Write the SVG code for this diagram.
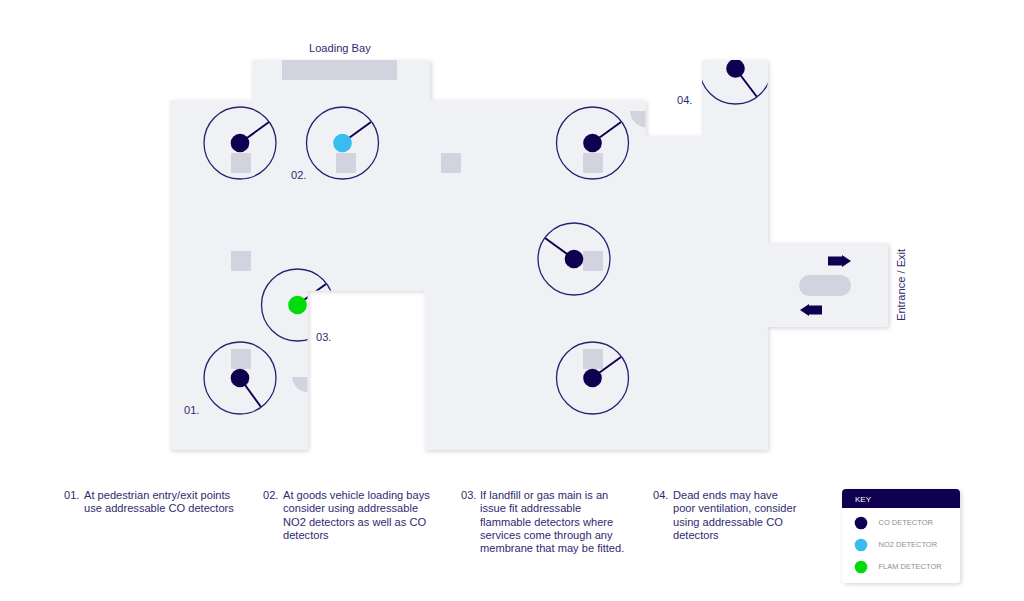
<svg xmlns="http://www.w3.org/2000/svg" width="1024" height="601" viewBox="0 0 1024 601">
<style>
text{font-family:"Liberation Sans",Arial,sans-serif;fill:#2f2a70;font-size:11.1px}
.key{fill:#8e8e96;font-size:7.500px}
.g{fill:#d3d3df}
.r{fill:none;stroke:#2a2070;stroke-width:1.3}
.l{stroke:#0f0050;stroke-width:2;fill:none}
.co{fill:#0f0050}.no2{fill:#38bdf0}.fl{fill:#00dc0a}
</style>
<defs>
<path id="fp" d="M252 60H430V100H645.500V136H702V60H767.500V243H888V327H767.500V450H424.500V290.500H307.500V450H170V100H252Z"/>
<clipPath id="fc"><use href="#fp"/></clipPath>
<filter id="sh" x="-5%" y="-5%" width="110%" height="115%"><feDropShadow dx="1.5" dy="1.5" stdDeviation="2" flood-color="#000" flood-opacity=".16"/></filter>
</defs>
<g id="floor">
<use href="#fp" fill="#f0f1f5" filter="url(#sh)"/>
<g class="g" clip-path="url(#fc)">
<rect x="282" y="60" width="115" height="20"/>
<rect x="231" y="153" width="20" height="20"/>
<rect x="336" y="153" width="20" height="20"/>
<rect x="441" y="153" width="20" height="20"/>
<rect x="583" y="153" width="20" height="20"/>
<rect x="583" y="251" width="20" height="20"/>
<rect x="583" y="349" width="20" height="20"/>
<rect x="231" y="251" width="20" height="20"/>
<rect x="231" y="349" width="20" height="20"/>
<path d="M292 377H308V392A16 16 0 0 1 292 377Z"/>
<path d="M630 111H648V127A16 16 0 0 1 630 111Z"/>
<rect x="799" y="275" width="52" height="21" rx="10.500"/>
</g>
</g>
<g id="connectors" clip-path="url(#fc)">
<line class="l" x1="240" y1="143" x2="269" y2="122"/>
<line class="l" x1="342" y1="143" x2="371" y2="122"/>
<line class="l" x1="592" y1="143" x2="621" y2="122"/>
<line class="l" x1="574" y1="259" x2="545" y2="238"/>
<line class="l" x1="592" y1="378" x2="621" y2="357"/>
<line class="l" x1="240" y1="378" x2="261" y2="407"/>
<line class="l" x1="297" y1="305" x2="326" y2="284"/>
<line class="l" x1="735" y1="68" x2="757" y2="97"/>
</g>
<g id="detector-1" clip-path="url(#fc)"><circle class="r" cx="240" cy="143" r="36"/><circle class="co" cx="240" cy="143" r="9.300"/></g>
<g id="detector-2" clip-path="url(#fc)"><circle class="r" cx="342.500" cy="143" r="36"/><circle class="no2" cx="342.500" cy="143" r="9.300"/></g>
<g id="detector-3" clip-path="url(#fc)"><circle class="r" cx="592.500" cy="143" r="36"/><circle class="co" cx="592.500" cy="143" r="9.300"/></g>
<g id="detector-4" clip-path="url(#fc)"><circle class="r" cx="574" cy="259" r="36"/><circle class="co" cx="574" cy="259" r="9.300"/></g>
<g id="detector-5" clip-path="url(#fc)"><circle class="r" cx="592.500" cy="378" r="36"/><circle class="co" cx="592.500" cy="378" r="9.300"/></g>
<g id="detector-6" clip-path="url(#fc)"><circle class="r" cx="240" cy="378" r="36"/><circle class="co" cx="240" cy="378" r="9.300"/></g>
<g id="detector-7" clip-path="url(#fc)"><circle class="r" cx="297.500" cy="305" r="36"/><circle class="fl" cx="297.500" cy="305" r="9.300"/></g>
<g id="detector-8" clip-path="url(#fc)"><circle class="r" cx="735.500" cy="68" r="36"/><circle class="co" cx="735.500" cy="68.500" r="9.300"/></g>
<g id="arrows" class="co">
<path d="M828 256.500H842V255L851 261L842 267V265.500H828Z"/>
<path d="M822 305.500H809V304L800 310L809 316V314.500H822Z"/>
</g>
<g id="labels">
<text x="309" y="52">Loading Bay</text>
<text x="291" y="179">02.</text>
<text x="184" y="414">01.</text>
<text x="316" y="341">03.</text>
<text x="677" y="104">04.</text>
<text transform="translate(905 321) rotate(-90)">Entrance / Exit</text>
</g>
<g id="note-1"><text x="64" y="499">01.</text><text x="84" y="499">At pedestrian entry/exit points</text><text x="84" y="512">use addressable CO detectors</text></g>
<g id="note-2"><text x="263" y="499">02.</text><text x="283" y="499">At goods vehicle loading bays</text><text x="283" y="512">consider using addressable</text><text x="283" y="526">NO2 detectors as well as CO</text><text x="283" y="539">detectors</text></g>
<g id="note-3"><text x="461" y="499">03.</text><text x="480" y="499">If landfill or gas main is an</text><text x="480" y="512">issue fit addressable</text><text x="480" y="526">flammable detectors where</text><text x="480" y="539">services come through any</text><text x="480" y="552">membrane that may be fitted.</text></g>
<g id="note-4"><text x="653" y="499">04.</text><text x="673" y="499">Dead ends may have</text><text x="673" y="512">poor ventilation, consider</text><text x="673" y="526">using addressable CO</text><text x="673" y="539">detectors</text></g>
<g id="key">
<rect x="842" y="489" width="118" height="94" rx="4" fill="#fff" filter="url(#sh)"/>
<path d="M842 508V493A4 4 0 0 1 846 489H956A4 4 0 0 1 960 493V508Z" fill="#0f0050"/>
<text x="855" y="502" style="fill:#fff;font-size:8px">KEY</text>
<circle class="co" cx="861" cy="523" r="6.300"/><text class="key" x="878.500" y="525">CO DETECTOR</text>
<circle class="no2" cx="861" cy="545" r="6.300"/><text class="key" x="878.500" y="547">NO2 DETECTOR</text>
<circle class="fl" cx="861" cy="567" r="6.300"/><text class="key" x="878.500" y="569">FLAM DETECTOR</text>
</g>
</svg>
